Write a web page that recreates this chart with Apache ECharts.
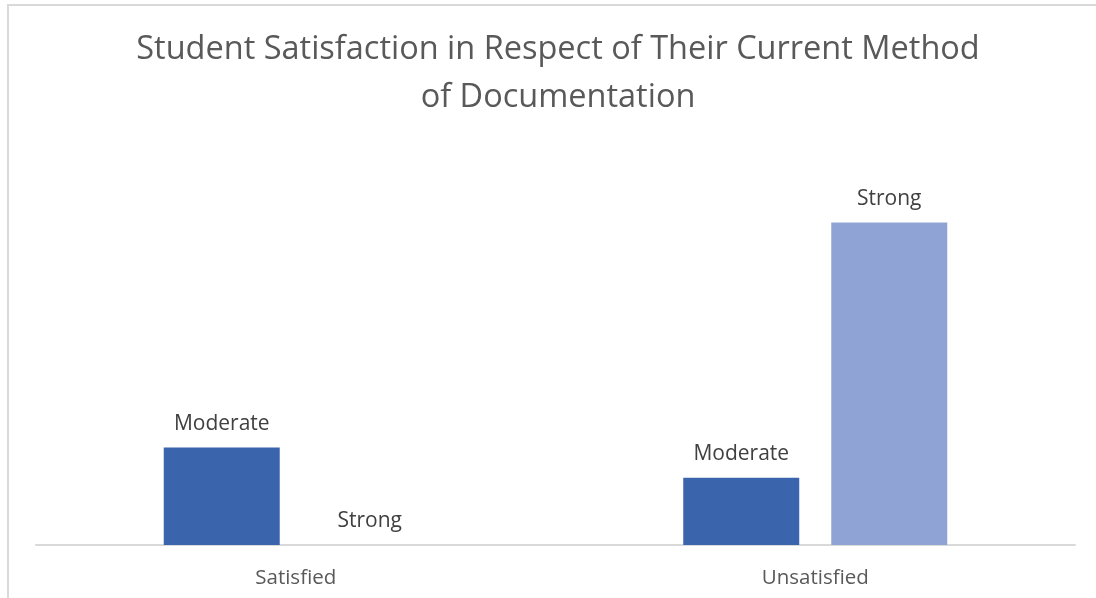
<!DOCTYPE html>
<html>
<head>
<meta charset="utf-8">
<script src="https://cdn.jsdelivr.net/npm/echarts@6/dist/echarts.min.js"></script>
<style>
html,body{margin:0;padding:0;background:#fff;}
#frame{position:absolute;left:0;top:0;width:1096px;height:598px;overflow:hidden;}
#border{position:absolute;left:7px;top:4px;width:1200px;height:700px;border-left:2px solid #d9d9d9;border-top:2px solid #d9d9d9;box-sizing:border-box;}
#chart{position:absolute;left:0;top:0;width:1096px;height:598px;}
</style>
</head>
<body>
<div id="frame"><div id="border"></div><div id="chart"></div></div>
<script>
const categories = ['Satisfied', 'Unsatisfied'];
const seriesNames = ['Moderate', 'Strong'];
const moderateValues = [29, 20];
const strongValues = [0, 96];

const chart = echarts.init(document.getElementById('chart'), null, {renderer: 'canvas'});
const fontFamily = '"Open Sans", "Noto Sans", sans-serif';
const labelStyle = {
  show: true,
  position: 'top',
  distance: 13,
  color: '#404040',
  fontSize: 21,
  fontFamily: fontFamily,
  formatter: p => p.seriesName
};
chart.setOption({
  animation: false,
  backgroundColor: 'transparent',
  title: {
    text: 'Student Satisfaction in Respect of Their Current Method\nof Documentation',
    left: 553,
    top: 21,
    textAlign: 'center',
    textStyle: {
      color: '#595959',
      fontSize: 32.5,
      fontWeight: 'normal',
      fontFamily: fontFamily,
      lineHeight: 48
    }
  },
  grid: {left: 36, right: 21, top: 142, bottom: 53, containLabel: false},
  xAxis: {
    type: 'category',
    data: categories,
    axisLine: {lineStyle: {color: '#d9d9d9', width: 2}},
    axisTick: {show: false},
    axisLabel: {color: '#595959', fontSize: 20.5, fontFamily: fontFamily, margin: 23}
  },
  yAxis: {
    type: 'value',
    min: 0,
    max: 120,
    show: false,
    splitLine: {show: false}
  },
  series: [
    {
      name: seriesNames[0],
      type: 'bar',
      data: moderateValues,
      barWidth: 116,
      barGap: '27.6%',
      itemStyle: {color: '#3A64AB'},
      label: labelStyle
    },
    {
      name: seriesNames[1],
      type: 'bar',
      data: strongValues,
      barWidth: 116,
      barGap: '27.6%',
      itemStyle: {color: '#8FA3D4'},
      label: labelStyle
    }
  ]
});
</script>
</body>
</html>
